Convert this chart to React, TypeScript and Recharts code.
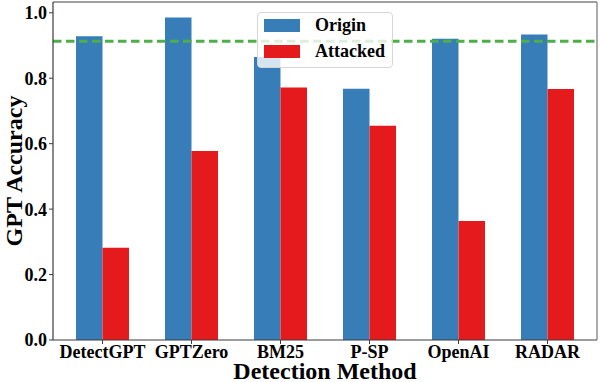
import React from 'react';
import { BarChart, Bar, XAxis, YAxis, ReferenceLine, Legend } from 'recharts';

const categories = ['DetectGPT', 'GPTZero', 'BM25', 'P-SP', 'OpenAI', 'RADAR'];
const originValues = [0.928, 0.986, 0.865, 0.768, 0.921, 0.934];
const attackedValues = [0.282, 0.578, 0.772, 0.655, 0.364, 0.767];
const thresholdValue = 0.913;
const yMax = 1.033;
const yTicks = [0, 0.2, 0.4, 0.6, 0.8, 1.0];
const seriesNames = ['Origin', 'Attacked'];
const seriesKeys = ['origin', 'attacked'];
const seriesColors = ['#377eb8', '#e41a1c'];

const data = categories.map((name, i) => ({
  name,
  origin: originValues[i],
  attacked: attackedValues[i],
}));

const FONT = '"Liberation Serif", "Times New Roman", serif';
const SPINE = '#3a3a3a';
const SPINE_LIGHT = '#808080';

function LegendBox() {
  return (
    <div
      style={{
        width: 136,
        height: 56,
        boxSizing: 'border-box',
        border: '1px solid #d6d6d6',
        borderRadius: 4,
        background: 'rgba(255,255,255,0.8)',
        position: 'relative',
        fontFamily: FONT,
        fontWeight: 'bold',
        fontSize: 18,
        color: '#000',
      }}
    >
      {seriesNames.map((n, i) => (
        <div key={n}>
          <div
            style={{
              position: 'absolute',
              left: 6,
              top: 6 + i * 26,
              width: 36,
              height: 13,
              background: seriesColors[i],
            }}
          />
          <div
            style={{
              position: 'absolute',
              left: 57,
              top: 2 + i * 26,
              lineHeight: '20px',
              whiteSpace: 'nowrap',
            }}
          >
            {n}
          </div>
        </div>
      ))}
    </div>
  );
}

const YLabel = (props: any) => {
  const vb = props.viewBox;
  const cx = 22;
  const cy = vb.y + vb.height / 2;
  return (
    <text
      x={cx}
      y={cy}
      transform={`rotate(-90, ${cx}, ${cy})`}
      textAnchor="middle"
      fontFamily={FONT}
      fontWeight="bold"
      fontSize={24}
      fill="#000"
    >
      GPT Accuracy
    </text>
  );
};

export default function App() {
  return (
    <div style={{ position: 'absolute', left: 0, top: 0, width: 600, height: 382, background: '#fff' }}>
      <BarChart
        width={600}
        height={382}
        data={data}
        margin={{ top: 2, right: 2, bottom: 0, left: 0 }}
        barGap={0}
      >
        <XAxis
          dataKey="name"
          height={42}
          padding={{ left: 5, right: 5 }}
          tickSize={4}
          tickMargin={1}
          axisLine={{ stroke: SPINE, strokeWidth: 1.2 }}
          tickLine={{ stroke: SPINE }}
          tick={{ fontFamily: FONT, fontWeight: 'bold', fontSize: 18, fill: '#000' }}
          interval={0}
          label={{
            value: 'Detection Method',
            position: 'insideBottom',
            offset: 3,
            style: { fontFamily: FONT, fontWeight: 'bold', fontSize: 24, fill: '#000' },
          }}
        />
        <YAxis
          width={53}
          domain={[0, yMax]}
          ticks={yTicks}
          tickFormatter={(v: number) => v.toFixed(1)}
          tickSize={4}
          tickMargin={2}
          axisLine={{ stroke: SPINE, strokeWidth: 1.2 }}
          tickLine={{ stroke: SPINE }}
          tick={{ fontFamily: FONT, fontWeight: 'bold', fontSize: 18, fill: '#000' }}
          label={{ content: YLabel }}
        />
        <YAxis
          yAxisId="r"
          orientation="right"
          width={1}
          domain={[0, yMax]}
          tick={false}
          tickLine={false}
          axisLine={{ stroke: SPINE_LIGHT, strokeWidth: 1.3 }}
        />
        <ReferenceLine y={yMax} stroke={SPINE_LIGHT} strokeWidth={1.5} ifOverflow="visible" />
        {seriesKeys.map((k, i) => (
          <Bar
            key={k}
            dataKey={k}
            name={seriesNames[i]}
            fill={seriesColors[i]}
            barSize={26.5}
            isAnimationActive={false}
          />
        ))}
        <ReferenceLine
          y={thresholdValue}
          stroke="#4daf4a"
          strokeWidth={2.8}
          strokeDasharray="8.5 4.5"
        />
        <Legend
          layout="vertical"
          align="center"
          verticalAlign="middle"
          content={() => <LegendBox />}
          wrapperStyle={{ left: 257, top: 12, width: 136, height: 56 }}
        />
      </BarChart>
    </div>
  );
}
